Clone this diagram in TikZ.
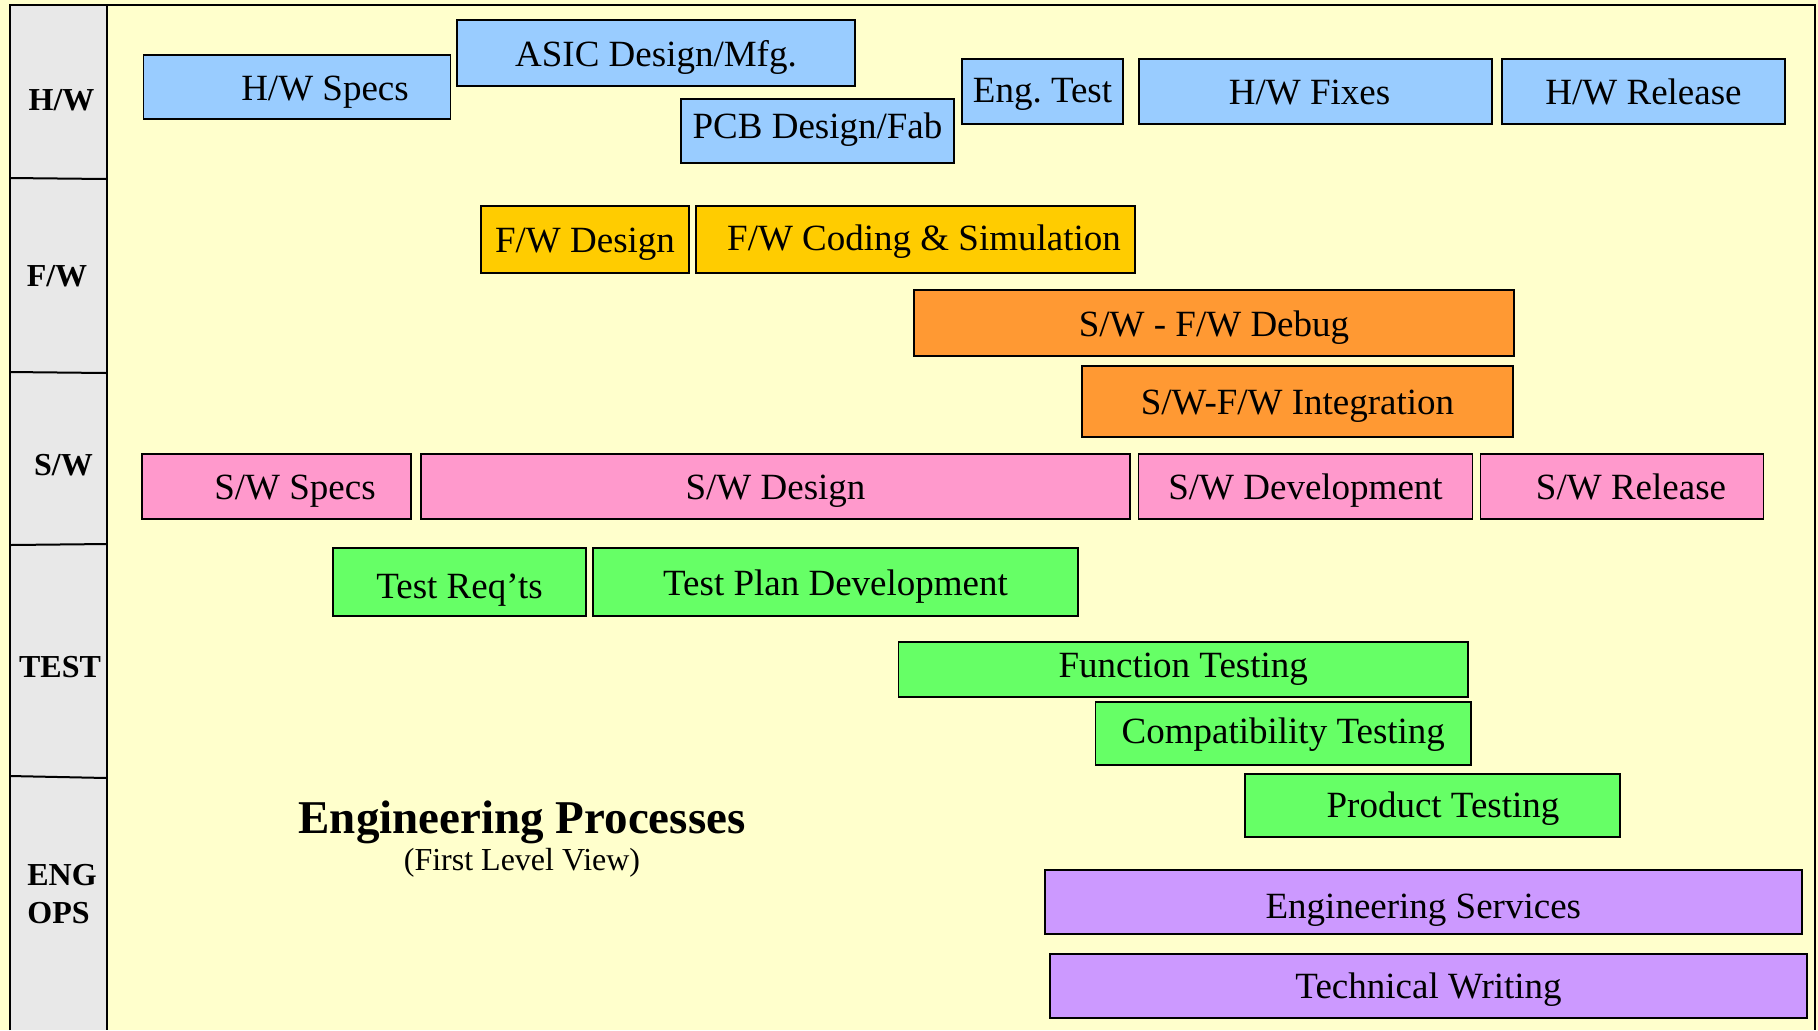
\documentclass[tikz,border=0pt]{standalone}
\usepackage{fontspec}
\setmainfont{Liberation Serif}

\definecolor{bgyellow}{HTML}{FFFFCC}
\definecolor{lanegray}{HTML}{E8E8E8}
\definecolor{hwblue}{HTML}{99CCFF}
\definecolor{fwgold}{HTML}{FFCC00}
\definecolor{dbgorange}{HTML}{FF9933}
\definecolor{swpink}{HTML}{FF99CC}
\definecolor{tstgreen}{HTML}{66FF66}
\definecolor{opspurple}{HTML}{CC99FF}

\begin{document}
\begin{tikzpicture}[x=0.5pt, y=-0.5pt,
	task/.style={draw=black, line width=0.9pt, inner xsep=1pt, inner ysep=0pt,
		text height=13pt, text depth=0pt, font=\fontsize{18.5}{22}\selectfont},
	hwbox/.style={task, fill=hwblue},
	fwbox/.style={task, fill=fwgold},
	dbgbox/.style={task, fill=dbgorange},
	swbox/.style={task, fill=swpink},
	tstbox/.style={task, fill=tstgreen},
	opsbox/.style={task, fill=opspurple},
	lane/.style={anchor=base, inner sep=0pt, font=\bfseries\fontsize{16}{19}\selectfont}]
	
	\useasboundingbox[fill=bgyellow] (0,0) rectangle (1818,1030);
	
	\fill[lanegray] (10,5) rectangle (107,1030);
	\draw[line width=1pt] (10,1030) -- (10,5) -- (1815,5) -- (1815,1030);
	\draw[line width=1pt] (107,5) -- (107,1030);
	\draw[line width=1pt] (10,178) -- (107,179);
	\draw[line width=1pt] (10,372) -- (107,373);
	\draw[line width=1pt] (10,545) -- (107,544);
	\draw[line width=1pt] (10,776) -- (107,778);
	
	\node[lane] (lhw) at (61.5,110){H/W};
	\node[lane] (lfw) at (57,286){F/W};
	\node[lane] (lsw) at (63.5,475){S/W};
	\node[lane] (ltest) at (60,677){TEST};
	\node[lane, anchor=north west, align=left] (lops) at (27,864){ENG\\OPS};
	
	\node[hwbox, minimum width=153.5pt, minimum height=32pt] (hwspecs) at (297,87){\hspace*{28pt}H/W Specs};
	\node[hwbox, minimum width=199pt, minimum height=33pt] (asic) at (656,53){ASIC Design/Mfg.};
	\node[hwbox, minimum width=136.5pt, minimum height=32pt, text height=7pt] (pcb) at (817.5,131){PCB Design/Fab};
	\node[hwbox, minimum width=80.5pt, minimum height=32.5pt, text height=11pt] (engtest) at (1042.5,91.5){Eng.\ Test};
	\node[hwbox, minimum width=176.5pt, minimum height=32.5pt] (hwfixes) at (1315.5,91.5){H/W Fixes\hspace*{6pt}};
	\node[hwbox, minimum width=141.5pt, minimum height=32.5pt] (hwrelease) at (1643.5,91.5){H/W Release};
	
	\node[fwbox, minimum width=104pt, minimum height=33.5pt] (fwdesign) at (585,239.5){F/W Design};
	\node[fwbox, minimum width=219.5pt, minimum height=33.5pt, text height=11pt] (fwcoding) at (915.5,239.5){\hspace*{8.5pt}F/W Coding \& Simulation};
	\node[dbgbox, minimum width=300pt, minimum height=33pt] (swfwdebug) at (1214,323){S/W - F/W Debug};
	\node[dbgbox, minimum width=215.5pt, minimum height=35.5pt] (swfwint) at (1297.5,401.5){S/W-F/W Integration};
	
	\node[swbox, minimum width=134.5pt, minimum height=32.5pt] (swspecs) at (276.5,486.5){\hspace*{18.5pt}S/W Specs};
	\node[swbox, minimum width=354.5pt, minimum height=32.5pt] (swdesign) at (775.5,486.5){S/W Design};
	\node[swbox, minimum width=167pt, minimum height=32.5pt] (swdev) at (1305.5,486.5){S/W Development};
	\node[swbox, minimum width=141.5pt, minimum height=32.5pt] (swrelease) at (1622,486.5){\hspace*{9pt}S/W Release};
	
	\node[tstbox, minimum width=126.5pt, minimum height=34pt, text height=16pt] (testreq) at (459.5,582){Test Req’ts};
	\node[tstbox, minimum width=242.5pt, minimum height=34pt] (testplan) at (835.5,582){Test Plan Development};
	\node[tstbox, minimum width=284.75pt, minimum height=27.5pt, text height=7.5pt] (functest) at (1183.25,669.5){Function Testing};
	\node[tstbox, minimum width=187.75pt, minimum height=31.5pt, text height=9.5pt] (compat) at (1283.25,733.5){Compatibility Testing};
	\node[tstbox, minimum width=187.5pt, minimum height=31.5pt, text height=11.5pt] (prodtest) at (1432.5,805.5){\hspace*{10.5pt}Product Testing};
	
	\node[opsbox, minimum width=378.7pt, minimum height=32pt, text height=16pt] (engserv) at (1423.3,902){Engineering Services};
	\node[opsbox, minimum width=378.5pt, minimum height=32pt, text height=12pt] (techwrite) at (1428.5,986){Technical Writing};
	
	\node[anchor=base, font=\bfseries\fontsize{23.5}{28}\selectfont] (title) at (522,833){Engineering Processes};
	\node[anchor=base, font=\fontsize{16}{19}\selectfont] (subtitle) at (522,870){(First Level View)};
\end{tikzpicture}
\end{document}
